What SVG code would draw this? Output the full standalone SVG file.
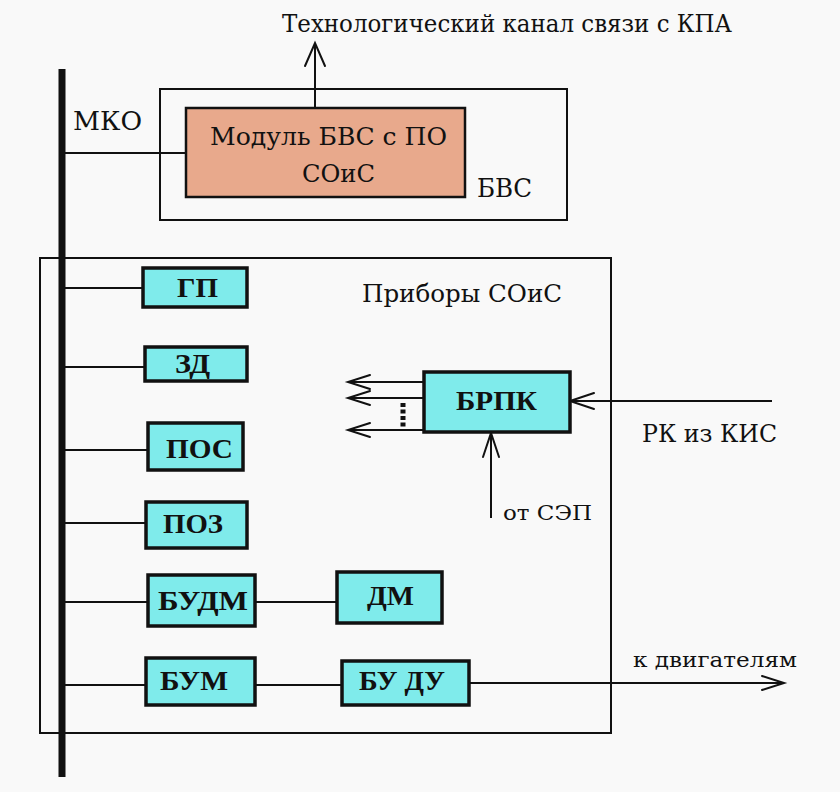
<svg xmlns="http://www.w3.org/2000/svg" width="840" height="792" viewBox="0 0 840 792">
<style>
.t{font-family:"DejaVu Serif","Liberation Serif",serif;fill:#111}
.b{font-family:"Liberation Serif","Times New Roman","DejaVu Serif",serif;font-weight:bold;font-size:28px;fill:#111}
.box{fill:#7FEBEB;stroke:#111;stroke-width:3.5}
.ln{stroke:#111;stroke-width:2;fill:none}
.ah{stroke:#111;stroke-width:2;fill:none;stroke-linecap:round}
</style>
<rect width="840" height="792" fill="#F9F9F9"/>
<text class="t" x="282" y="32" font-size="25" textLength="450" lengthAdjust="spacingAndGlyphs">Технологический канал связи с КПА</text>
<g id="bvs">
<rect x="160" y="89" width="407" height="131" fill="none" stroke="#111" stroke-width="2"/>
<text class="t" x="477" y="197" font-size="26" textLength="55" lengthAdjust="spacingAndGlyphs">БВС</text>
</g>
<g id="module">
<rect x="186" y="108" width="279" height="89" fill="#E8A98C" stroke="#111" stroke-width="2.5"/>
<text class="t" x="210" y="145" font-size="25" textLength="237" lengthAdjust="spacingAndGlyphs">Модуль БВС с ПО</text>
<text class="t" x="302" y="182" font-size="25" textLength="73" lengthAdjust="spacingAndGlyphs">СОиС</text>
</g>
<g id="pribory">
<rect x="40" y="258" width="571" height="475" fill="none" stroke="#111" stroke-width="2"/>
<text class="t" x="362" y="302" font-size="24" textLength="200" lengthAdjust="spacingAndGlyphs">Приборы СОиС</text>
</g>
<g id="connectors">
<line x1="62" y1="69" x2="62" y2="777" stroke="#111" stroke-width="7"/>
<line class="ln" x1="62" y1="153" x2="186" y2="153"/>
<line class="ln" x1="315" y1="108" x2="315" y2="43"/>
<path class="ah" d="M305,66 L315,43 L325,66"/>
<line class="ln" x1="62" y1="288" x2="143" y2="288"/>
<line class="ln" x1="62" y1="367" x2="145" y2="367"/>
<line class="ln" x1="62" y1="450" x2="148" y2="450"/>
<line class="ln" x1="62" y1="523" x2="146" y2="523"/>
<line class="ln" x1="62" y1="602" x2="148" y2="602"/>
<line class="ln" x1="255" y1="602" x2="337" y2="602"/>
<line class="ln" x1="62" y1="685" x2="146" y2="685"/>
<line class="ln" x1="255" y1="685" x2="342" y2="685"/>
<line class="ln" x1="469" y1="683" x2="784" y2="683"/>
<path class="ah" d="M762,676 L784,683 L762,690"/>
<line class="ln" x1="424" y1="382" x2="348" y2="382"/>
<path class="ah" d="M370,375 L348,382 L370,389"/>
<line class="ln" x1="424" y1="398" x2="348" y2="398"/>
<path class="ah" d="M370,391 L348,398 L370,405"/>
<line class="ln" x1="424" y1="430" x2="348" y2="430"/>
<path class="ah" d="M370,423 L348,430 L370,437"/>
<line x1="403" y1="403" x2="403" y2="428" stroke="#111" stroke-width="5" stroke-dasharray="4,2.5"/>
<line class="ln" x1="772" y1="401" x2="570" y2="401"/>
<path class="ah" d="M594,393 L570,401 L594,409"/>
<line class="ln" x1="491" y1="518" x2="491" y2="433"/>
<path class="ah" d="M483,457 L491,433 L499,457"/>
</g>
<text class="t" x="73" y="130" font-size="26" textLength="69" lengthAdjust="spacingAndGlyphs">МКО</text>
<text class="t" x="642" y="442" font-size="24" textLength="135" lengthAdjust="spacingAndGlyphs">РК из КИС</text>
<text class="t" x="503" y="520" font-size="20" textLength="89" lengthAdjust="spacingAndGlyphs">от СЭП</text>
<text class="t" x="633" y="667" font-size="20" textLength="164" lengthAdjust="spacingAndGlyphs">к двигателям</text>
<g id="gp"><rect class="box" x="143" y="268" width="104" height="39"/><text class="b" x="177" y="297" textLength="41" lengthAdjust="spacingAndGlyphs">ГП</text></g>
<g id="zd"><rect class="box" x="145" y="347" width="102" height="34"/><text class="b" x="175" y="373" textLength="35" lengthAdjust="spacingAndGlyphs">ЗД</text></g>
<g id="pos"><rect class="box" x="148" y="423" width="95" height="47"/><text class="b" x="166" y="458" textLength="67" lengthAdjust="spacingAndGlyphs">ПОС</text></g>
<g id="poz"><rect class="box" x="146" y="502" width="101" height="46"/><text class="b" x="163" y="533" textLength="60" lengthAdjust="spacingAndGlyphs">ПОЗ</text></g>
<g id="budm"><rect class="box" x="148" y="575" width="107" height="51"/><text class="b" x="158" y="610" textLength="90" lengthAdjust="spacingAndGlyphs">БУДМ</text></g>
<g id="dm"><rect class="box" x="337" y="572" width="105" height="51"/><text class="b" x="367" y="605" textLength="47" lengthAdjust="spacingAndGlyphs">ДМ</text></g>
<g id="brpk"><rect class="box" x="424" y="372" width="146" height="60"/><text class="b" x="456" y="410" textLength="81" lengthAdjust="spacingAndGlyphs">БРПК</text></g>
<g id="bum"><rect class="box" x="146" y="658" width="109" height="47"/><text class="b" x="160" y="690" textLength="68" lengthAdjust="spacingAndGlyphs">БУМ</text></g>
<g id="budu"><rect class="box" x="342" y="661" width="127" height="44"/><text class="b" x="359" y="690" textLength="86" lengthAdjust="spacingAndGlyphs">БУ ДУ</text></g>
</svg>
